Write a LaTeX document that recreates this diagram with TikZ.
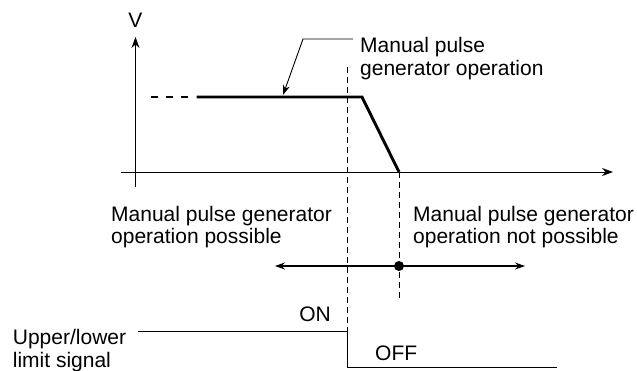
\documentclass[tikz,border=0pt]{standalone}
\usepackage{fontspec}
\setmainfont{Liberation Sans}
\usetikzlibrary{arrows.meta}
\begin{document}
\begin{tikzpicture}[x=1pt,y=-1pt,
  lbl/.style={font=\fontsize{21}{22.3}\selectfont, inner sep=0pt, align=left},
  thin line/.style={line width=0.9pt},
  axis/.style={line width=0.9pt, -{Stealth[length=11pt,width=8pt]}},
  guide/.style={line width=0.9pt, dash pattern=on 6pt off 4pt},
  curve/.style={line width=2.9pt},
  tip/.style={-{Stealth[length=10pt,width=7pt]}}
]
\useasboundingbox (0,0) rectangle (637,370);
% axes
\coordinate (vbot) at (135.5,187);
\coordinate (vtop) at (135.5,37);
\coordinate (hleft) at (121,172);
\coordinate (hright) at (613,172);
\draw[axis] (vbot) -- (vtop);
\draw[axis] (hleft) -- (hright);
\node[lbl, anchor=base] (V) at (135.5,27) {V};
% velocity curve
\coordinate (d0) at (151,97);
\coordinate (d1) at (188.5,97);
\coordinate (s0) at (196.5,97);
\coordinate (s1) at (362,97);
\coordinate (s2) at (399,172);
\draw[curve, dash pattern=on 7.3pt off 7.7pt] (d0) -- (d1);
\draw[curve, line join=miter] (s0) -- (s1) -- (s2);
% guides
\coordinate (g1top) at (347,67);
\coordinate (g1bot) at (347,331);
\coordinate (g2top) at (399,172);
\coordinate (g2bot) at (399,300);
\draw[guide] (g1top) -- (g1bot);
\draw[guide] (g2top) -- (g2bot);
% leader label
\node[lbl, anchor=base west] (mpg) at (360,75) {Manual pulse\\generator operation};
\coordinate (ld0) at (353,39);
\coordinate (ld1) at (303,39);
\coordinate (ld2) at (283,95);
\draw[thin line, tip] (ld0) -- (ld1) -- (ld2);
% region labels
\node[lbl, anchor=base west] (poss) at (111,243.7) {Manual pulse generator\\operation possible};
\node[lbl, anchor=base west] (nposs) at (413,243.7) {Manual pulse generator\\operation not possible};
% double arrow
\coordinate (aL) at (275,266);
\coordinate (aR) at (525,266);
\node[circle, fill=black, inner sep=0pt, minimum size=10pt] (dot) at (399,266) {};
\draw[line width=1.2pt, {Stealth[length=10pt,width=7pt]}-{Stealth[length=10pt,width=7pt]}] (aL) -- (aR);
% signal
\coordinate (sig0) at (138,331);
\coordinate (sig1) at (347,331);
\coordinate (sig2) at (347,367);
\coordinate (sig3) at (557,367);
\draw[thin line] (sig0) -- (sig1) -- (sig2) -- (sig3);
\node[lbl, anchor=base] (on) at (315,321) {ON};
\node[lbl, anchor=base west] (off) at (375,360) {OFF};
\node[lbl, anchor=base west] (ul) at (12.7,367) {Upper/lower\\limit signal};
\end{tikzpicture}
\end{document}
